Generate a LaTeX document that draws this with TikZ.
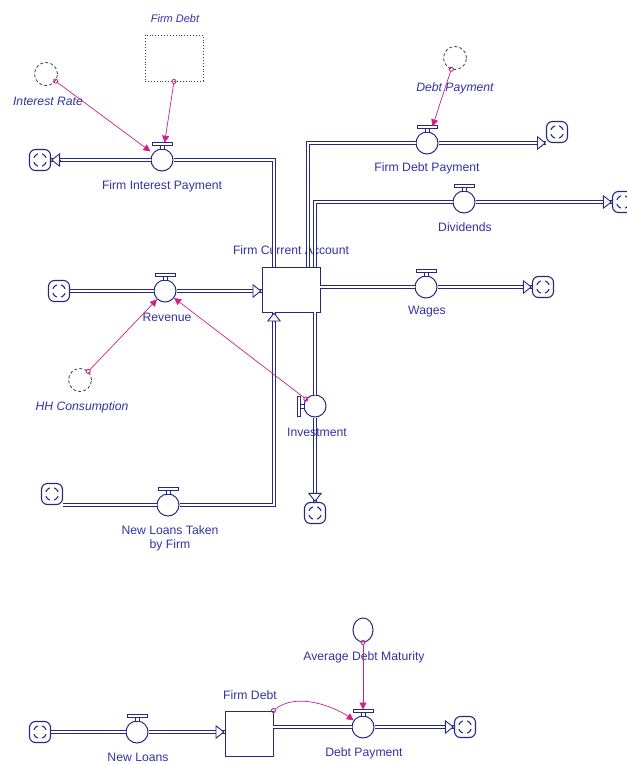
\documentclass[tikz,border=0pt]{standalone}
\usepackage{fontspec}
\setmainfont{Liberation Sans}
\usetikzlibrary{arrows.meta,calc,shapes.geometric}
\definecolor{flowc}{RGB}{40,40,130}
\definecolor{txtc}{RGB}{50,50,165}
\definecolor{linkc}{RGB}{205,35,130}
\definecolor{ghostc}{RGB}{60,60,75}
\tikzset{
  pipe/.style={draw=flowc, line width=1pt, double=white, double distance=2pt},
  tipst/.style={draw=flowc, line width=0.9pt, -{Triangle[length=9pt,width=14pt,fill=white]}},
  valve/.style={circle, draw=flowc, line width=1pt, fill=white, minimum size=22pt, inner sep=0pt},
  stock/.style={rectangle, draw=flowc, line width=0.9pt, fill=white, inner sep=0pt},
  cloud/.style={rectangle, rounded corners=6pt, draw=flowc, line width=1.1pt, fill=white,
    minimum size=21pt, inner sep=0pt,
    path picture={\foreach \a in {20,110,200,290}
      \draw[flowc, line width=1.1pt] ($(path picture bounding box.center)+(\a:6.5)$)
        arc[start angle=\a, delta angle=50, radius=6.5];}},
  ghost/.style={circle, draw=ghostc, dash pattern=on 3pt off 2.2pt, line width=0.8pt, minimum size=23pt, inner sep=0pt},
  link/.style={draw=linkc, line width=0.7pt, shorten <=-2.5pt,
    {Circle[open,length=5pt,width=5pt,line width=0.9pt]}-{Triangle[length=7pt,width=7pt]}},
  lbl/.style={text=txtc, inner sep=0pt},
  ilbl/.style={lbl, font=\fontsize{12.2}{14}\selectfont\itshape},
  handle/.pic={\draw[draw=flowc, line width=1pt, fill=white] (-2,-14.5) rectangle (2,-11) (-10,-17.5) rectangle (10,-14.5);}
}
\begin{document}
\begin{tikzpicture}[x=1pt, y=-1pt, font=\fontsize{12.2}{14}\selectfont]
\useasboundingbox (0,0) rectangle (627,764);

% ---------- labels drawn first (pipes pass over them) ----------
\node[lbl] (tFCA) at (291,250) {Firm Current Account};

% ---------- top: stock and ghosts ----------
\node[stock, minimum width=58pt, minimum height=45pt] (FCA) at (291,289.5) {};
\node[lbl, font=\fontsize{11}{13}\selectfont\itshape] (tFDg) at (175,19) {Firm Debt};
\node[draw=ghostc, dotted, line width=0.9pt, minimum width=58pt, minimum height=46pt, inner sep=0pt] (gFD) at (174,58) {};
\node[ghost] (gIR) at (46,74) {};
\node[ilbl] (tIR) at (48,101) {Interest Rate};
\node[ghost] (gDP) at (455,58) {};
\node[ilbl] (tDP) at (455,88) {Debt Payment};
\node[ghost] (gHH) at (80,380) {};
\node[ilbl] (tHH) at (82,407) {HH Consumption};

% corners
\coordinate (kFIP) at (274,160);
\coordinate (kFDP) at (308,143);
\coordinate (kDIV) at (315,202);
\coordinate (kNL) at (274,505);
\coordinate (tipFDP) at (546,143);

% valves
\node[valve] (vFIP) at (162,160) {};
\node[valve] (vFDP) at (427,143) {};
\node[valve] (vDIV) at (464,202) {};
\node[valve] (vREV) at (165,291) {};
\node[valve] (vWAG) at (426,287) {};
\node[valve] (vINV) at (315,406) {};
\node[valve] (vNLT) at (168,505) {};

% clouds
\node[cloud] (c1) at (40,160) {};
\node[cloud] (c2) at (557,132) {};
\node[cloud] (c3) at (623,202) {};
\node[cloud] (c4) at (59,291) {};
\node[cloud] (c5) at (543,287) {};
\node[cloud] (c6) at (315,513) {};
\node[cloud] (c7) at (52,494) {};

% pipes
\draw[pipe] (FCA.north -| kFIP) -- (kFIP) -- (vFIP);
\draw[pipe] (vFIP) -- (c1);
\draw[tipst] ($(c1.east)+(9,0)$) -- (c1.east);

\draw[pipe] (FCA.north -| kFDP) -- (kFDP) -- (vFDP);
\draw[pipe] (vFDP) -- (tipFDP);
\draw[tipst] ($(tipFDP)+(-9,0)$) -- (tipFDP);

\draw[pipe] (FCA.north -| kDIV) -- (kDIV) -- (vDIV);
\draw[pipe] (vDIV) -- (c3);
\draw[tipst] ($(c3.west)+(-9,0)$) -- (c3.west);

\draw[pipe] (c4) -- (vREV);
\draw[pipe] (vREV) -- (FCA.west |- vREV);
\draw[tipst] ($(FCA.west |- vREV)+(-9,0)$) -- (FCA.west |- vREV);

\draw[pipe] (FCA.east |- vWAG) -- (vWAG);
\draw[pipe] (vWAG) -- (c5);
\draw[tipst] ($(c5.west)+(-9,0)$) -- (c5.west);

\draw[pipe] (FCA.south -| vINV) -- (vINV);
\draw[pipe] (vINV) -- (c6);
\draw[tipst] ($(c6.north)+(0,-9)$) -- (c6.north);

\draw[pipe] (c7.east |- vNLT) -- (vNLT);
\draw[pipe] (vNLT) -- (kNL) -- (FCA.south -| kNL);
\draw[tipst] ($(FCA.south -| kNL)+(0,9)$) -- (FCA.south -| kNL);

% valve handles (drawn over pipes)
\pic at (vFIP) {handle};
\pic at (vFDP) {handle};
\pic at (vDIV) {handle};
\pic at (vREV) {handle};
\pic at (vWAG) {handle};
\pic[rotate=90] at (vINV) {handle};
\pic at (vNLT) {handle};

% flow labels
\node[lbl] (tFIP) at (162,186) {Firm Interest Payment};
\node[lbl] (tFDP) at (427,168) {Firm Debt Payment};
\node[lbl] (tDIV) at (465,227) {Dividends};
\node[lbl] (tREV) at (167,317) {Revenue};
\node[lbl] (tWAG) at (427,312) {Wages};
\node[lbl] (tINV) at (317,432) {Investment};
\node[lbl, align=center] (tNLT) at (170,538) {New Loans Taken\\by Firm};

% links
\draw[link, shorten >=6pt] (gFD.south) -- (vFIP);
\draw[link, shorten >=3pt] (gIR) -- (vFIP);
\draw[link, shorten >=6pt] (gDP) -- (vFDP);
\draw[link] (gHH) -- (vREV);
\draw[link] (vINV) -- (vREV);

% ---------- bottom ----------
\node[stock, minimum width=48pt, minimum height=45pt] (FD) at (249,733.5) {};
\node[lbl] (tFD) at (250,695) {Firm Debt};
\node[valve] (vNL) at (137,732) {};
\node[valve] (vDP) at (363,727) {};
\node[cloud] (c8) at (40,732) {};
\node[cloud] (c9) at (465,727) {};
\node[ellipse, draw=flowc, line width=1pt, fill=white, minimum width=20pt, minimum height=24pt, inner sep=0pt] (ADM) at (363,630) {};
\node[lbl] (tADM) at (364,657) {Average Debt Maturity};

\draw[pipe] (c8) -- (vNL);
\draw[pipe] (vNL) -- (FD.west |- vNL);
\draw[tipst] ($(FD.west |- vNL)+(-9,0)$) -- (FD.west |- vNL);
\draw[pipe] (FD.east |- vDP) -- (vDP);
\draw[pipe] (vDP) -- (c9);
\draw[tipst] ($(c9.west)+(-9,0)$) -- (c9.west);
\pic at (vNL) {handle};
\pic at (vDP) {handle};

\node[lbl] (tNL) at (138,757) {New Loans};
\node[lbl] (tDPb) at (364,753) {Debt Payment};

\draw[link, shorten >=6pt] (ADM) -- (vDP);
\draw[link] (FD.north east) .. controls +(25,-20) and +(-25,-18) .. (vDP);
\end{tikzpicture}
\end{document}
